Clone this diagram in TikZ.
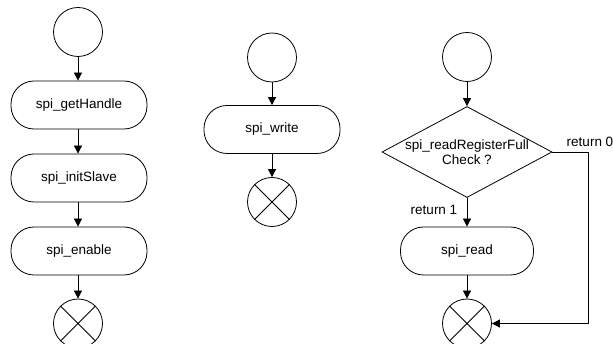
\documentclass[tikz,border=0pt]{standalone}
\usepackage{fontspec}
\setmainfont{Liberation Sans}
\usetikzlibrary{arrows.meta,shapes.geometric}
\tikzset{
  startnode/.style={draw, circle, minimum size=49pt, inner sep=0pt},
  endnode/.style={draw, circle, minimum size=49pt, inner sep=0pt},
  action/.style={draw, rounded corners=23pt, minimum width=#1,
                 minimum height=48pt, inner sep=0pt},
  action/.default=136pt,
  decision/.style={draw, diamond, minimum width=170pt, minimum height=91pt,
                   inner sep=0pt},
  flow/.style={-{Triangle[length=8pt,width=8pt]}},
}

\begin{document}
\begin{tikzpicture}[x=1pt, y=-1pt, line width=0.8pt,
                    font=\fontsize{13.5}{15.5}\selectfont]
\useasboundingbox (0,0) rectangle (613,344);

% Init sequence
\node[startnode] (start1) at (78,32) {};
\node[action] (gethandle) at (79,105) {spi\_getHandle};
\node[action] (initslave) at (79,178) {spi\_initSlave};
\node[action] (enable) at (79,251) {spi\_enable};
\node[endnode] (end1) at (78,323.5) {};
\draw[flow] (start1) -- (start1 |- gethandle.north);
\draw[flow] (gethandle.south -| start1) -- (start1 |- initslave.north);
\draw[flow] (initslave.south -| start1) -- (start1 |- enable.north);
\draw[flow] (enable.south -| start1) -- (end1);

% Write
\node[startnode] (start2) at (272,57.5) {};
\node[action] (write) at (272,129.5) {spi\_write};
\node[endnode] (end2) at (272,202) {};
\draw[flow] (start2) -- (write);
\draw[flow] (write) -- (end2);

% Read with register check
\node[startnode] (start3) at (467,57) {};
\node[decision, label={[align=center]center:spi\_readRegisterFull\\Check ?}]
      (check) at (467,152) {};
\node[action=133pt] (read) at (467,251) {spi\_read};
\node[endnode] (end3) at (467,323.5) {};
\draw[flow] (start3) -- (check);
\draw[flow] (check) -- (read);
\draw[flow] (read) -- (end3);
\draw[flow] (check.east) -- ++(36,0) |- (end3);
\node (ret1) at (434,210) {return 1};
\node (ret0) at (590,142) {return 0};

% Crosses in the end nodes
\foreach \n in {end1,end2,end3}
  \draw (\n.north west) -- (\n.south east) (\n.north east) -- (\n.south west);

\end{tikzpicture}
\end{document}
